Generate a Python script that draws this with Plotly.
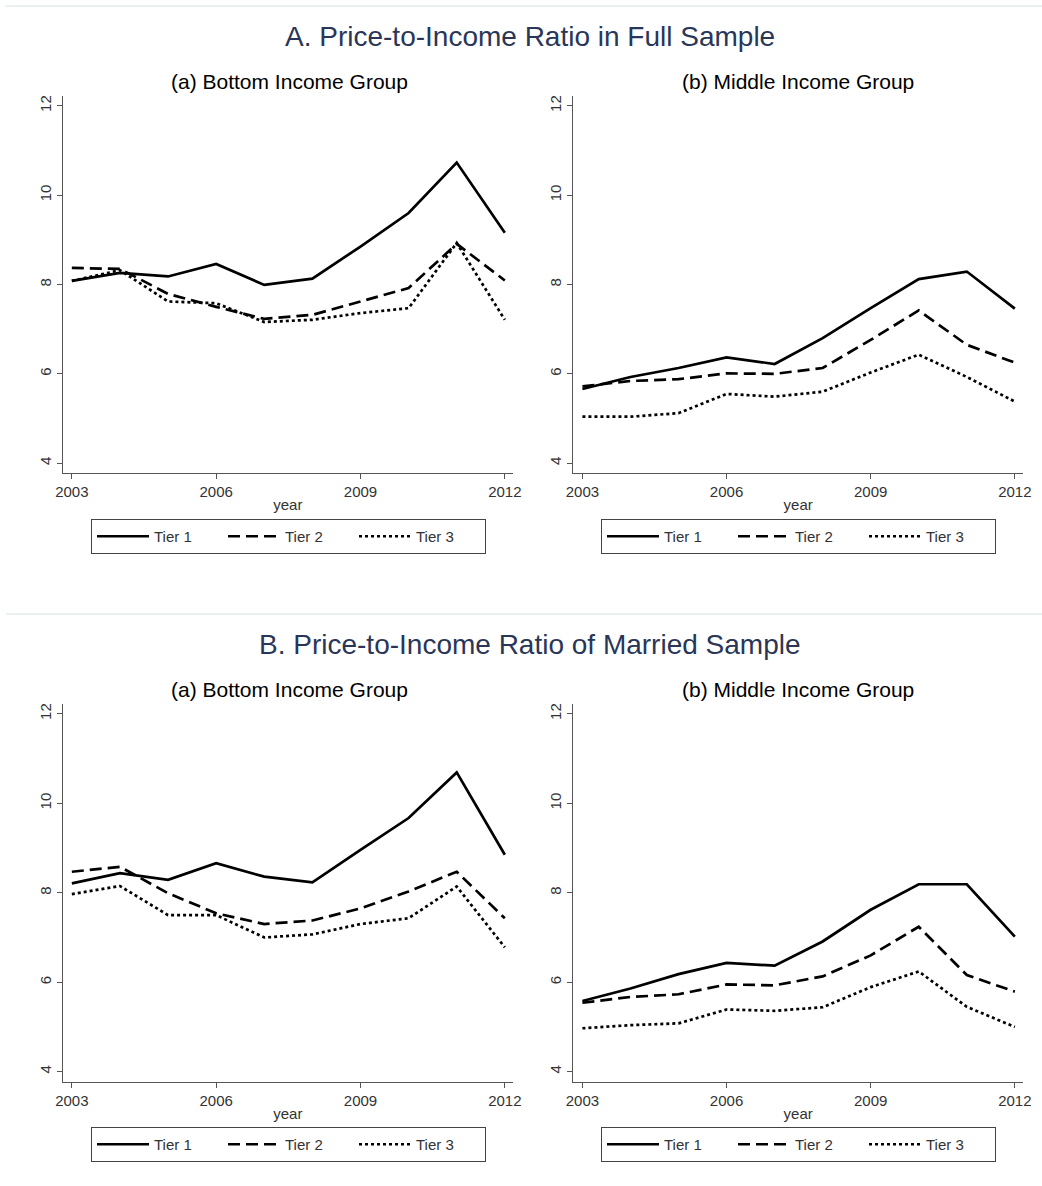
import plotly.graph_objects as go

# ---------------- data ----------------
years = [2003, 2004, 2005, 2006, 2007, 2008, 2009, 2010, 2011, 2012]
tier_names = ["Tier 1", "Tier 2", "Tier 3"]
x_tick_vals = [2003, 2006, 2009, 2012]
y_tick_vals = [4, 6, 8, 10, 12]

# A. Full sample, (a) bottom income group
full_bottom_t1 = [8.08, 8.26, 8.18, 8.46, 7.99, 8.13, 8.85, 9.60, 10.73, 9.16]
full_bottom_t2 = [8.37, 8.35, 7.79, 7.50, 7.23, 7.32, 7.62, 7.92, 8.91, 8.09]
full_bottom_t3 = [8.08, 8.32, 7.62, 7.58, 7.16, 7.21, 7.36, 7.47, 8.93, 7.21]

# A. Full sample, (b) middle income group
full_middle_t1 = [5.66, 5.93, 6.13, 6.37, 6.22, 6.80, 7.47, 8.12, 8.29, 7.46]
full_middle_t2 = [5.72, 5.84, 5.88, 6.01, 6.00, 6.13, 6.76, 7.42, 6.65, 6.25]
full_middle_t3 = [5.04, 5.04, 5.12, 5.55, 5.49, 5.60, 6.03, 6.43, 5.93, 5.38]

# B. Married sample, (a) bottom income group
mar_bottom_t1 = [8.21, 8.44, 8.29, 8.66, 8.36, 8.23, 8.96, 9.67, 10.69, 8.85]
mar_bottom_t2 = [8.47, 8.58, 7.99, 7.54, 7.30, 7.38, 7.65, 8.03, 8.47, 7.43]
mar_bottom_t3 = [7.97, 8.15, 7.50, 7.50, 7.00, 7.07, 7.30, 7.43, 8.14, 6.78]

# B. Married sample, (b) middle income group
mar_middle_t1 = [5.58, 5.86, 6.18, 6.43, 6.37, 6.91, 7.62, 8.19, 8.19, 7.02]
mar_middle_t2 = [5.54, 5.67, 5.73, 5.95, 5.93, 6.13, 6.60, 7.24, 6.16, 5.79]
mar_middle_t3 = [4.97, 5.04, 5.08, 5.39, 5.36, 5.44, 5.89, 6.24, 5.45, 5.00]

section_titles = ["A. Price-to-Income Ratio in Full Sample",
                  "B. Price-to-Income Ratio of Married Sample"]
panel_titles = ["(a) Bottom Income Group", "(b) Middle Income Group"]

panels = [
    [full_bottom_t1, full_bottom_t2, full_bottom_t3],
    [full_middle_t1, full_middle_t2, full_middle_t3],
    [mar_bottom_t1, mar_bottom_t2, mar_bottom_t3],
    [mar_middle_t1, mar_middle_t2, mar_middle_t3],
]

# ---------------- layout helpers ----------------
W, H = 1042, 1186
FONT = "Liberation Sans, Arial, sans-serif"
dashes = ["solid", "12px,6px", "3px,3px"]
LW = 2.7
TXT = "#333333"

def px_x(p):
    return p / W

def px_y(p):
    return 1 - p / H

# pixel geometry of each plot region: (left, right, top, bottom)
regions = [
    (62.7, 513.0, 96.0, 473.0),
    (573.3, 1023.0, 96.0, 473.0),
    (62.7, 513.0, 704.0, 1081.5),
    (573.3, 1023.0, 704.0, 1081.5),
]
legend_names = ["legend", "legend2", "legend3", "legend4"]
legend_centers = [(288.5, 519.0), (798.5, 519.0), (288.5, 1127.0), (798.5, 1127.0)]

fig = go.Figure()
layout = {}
for i, (series, reg) in enumerate(zip(panels, regions)):
    n = "" if i == 0 else str(i + 1)
    xa, ya = "x" + n, "y" + n
    for s, name, dash in zip(series, tier_names, dashes):
        fig.add_trace(go.Scatter(
            x=years, y=s, mode="lines", name=name,
            line=dict(color="black", width=LW, dash=dash),
            xaxis=xa, yaxis=ya, legend=legend_names[i],
            showlegend=True, hoverinfo="x+y",
        ))
    l, r, t, b = reg
    axis_common = dict(showgrid=False, zeroline=False, showline=True,
                       linecolor="#555555", linewidth=1.3,
                       ticks="outside", ticklen=5, tickcolor="#555555",
                       tickwidth=1.3, automargin=False,
                       tickfont=dict(family=FONT, size=15, color=TXT))
    layout["xaxis" + n] = dict(
        domain=[px_x(l), px_x(r)], range=[2002.81, 2012.17],
        tickvals=x_tick_vals, anchor=ya,
        title=dict(text="year", font=dict(family=FONT, size=15, color=TXT),
                   standoff=0),
        **axis_common)
    layout["yaxis" + n] = dict(
        domain=[px_y(b), px_y(t)], range=[3.78, 12.22],
        tickvals=y_tick_vals, tickangle=-90, anchor=xa,
        **axis_common)
    cx, cy = legend_centers[i]
    layout[legend_names[i]] = dict(
        x=px_x(cx), y=px_y(cy), xanchor="center", yanchor="top",
        orientation="h", bordercolor="#444444", borderwidth=1,
        bgcolor="white", font=dict(family=FONT, size=15, color=TXT),
        itemwidth=52, entrywidth=64, entrywidthmode="pixels",
        itemclick=False, itemdoubleclick=False,
    )

annotations = []
for k, (title, ty) in enumerate(zip(section_titles, [36, 644])):
    annotations.append(dict(text=title, x=px_x(530), y=px_y(ty), xref="paper",
                            yref="paper", showarrow=False, xanchor="center",
                            yanchor="middle",
                            font=dict(family=FONT, size=28, color="#2a3658")))
    for j, (pt, cx) in enumerate(zip(panel_titles, [289, 798])):
        annotations.append(dict(text=pt, x=px_x(cx), y=px_y(ty + 45), xref="paper",
                                yref="paper", showarrow=False, xanchor="center",
                                yanchor="middle",
                                font=dict(family=FONT, size=21, color="black")))

shapes = [
    dict(type="line", xref="paper", yref="paper", x0=px_x(5), x1=1,
         y0=px_y(6), y1=px_y(6), line=dict(color="#e4ebeb", width=1.5)),
    dict(type="line", xref="paper", yref="paper", x0=px_x(6), x1=1,
         y0=px_y(614), y1=px_y(614), line=dict(color="#e4ebeb", width=1.5)),
]

fig.update_layout(
    width=W, height=H, margin=dict(l=0, r=0, t=0, b=0),
    paper_bgcolor="white", plot_bgcolor="white",
    annotations=annotations, shapes=shapes, **layout,
)

fig.write_html("out.html", config={"displayModeBar": False},
               post_script="document.body.style.margin='0';document.body.style.overflow='hidden';")
